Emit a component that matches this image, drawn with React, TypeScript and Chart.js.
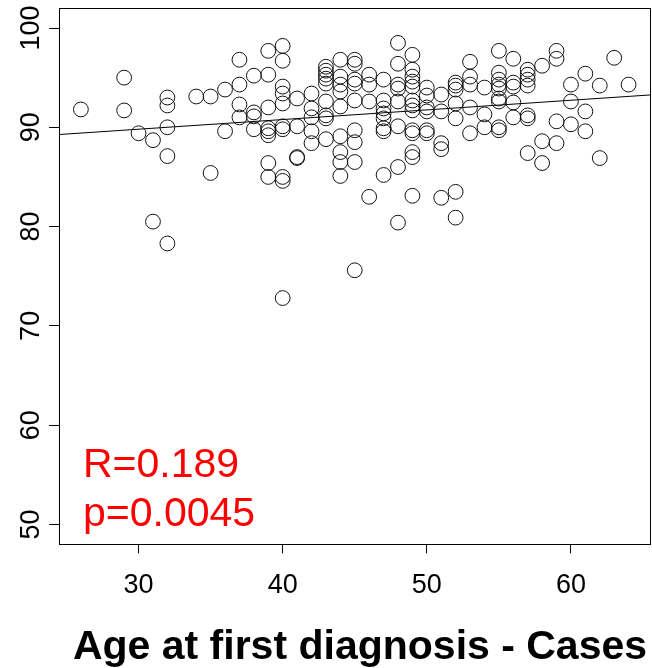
import React, { useEffect, useRef } from 'react';
import { Chart, registerables } from 'chart.js';

Chart.register(...registerables);

// Age at first diagnosis (x) and score (y), grouped by age
const ages: number[] = [
  26,
  29, 29,
  30,
  31, 31,
  32, 32, 32, 32, 32,
  34,
  35, 35,
  36, 36,
  37, 37, 37, 37,
  38, 38, 38, 38,
  39, 39, 39, 39, 39, 39, 39, 39,
  40, 40, 40, 40, 40, 40, 40, 40, 40, 40,
  41, 41, 41, 41,
  42, 42, 42, 42, 42,
  43, 43, 43, 43, 43, 43, 43, 43, 43,
  44, 44, 44, 44, 44, 44, 44, 44, 44,
  45, 45, 45, 45, 45, 45, 45, 45, 45,
  46, 46, 46, 46,
  47, 47, 47, 47, 47, 47, 47, 47,
  48, 48, 48, 48, 48, 48, 48, 48,
  49, 49, 49, 49, 49, 49, 49, 49, 49, 49, 49, 49, 49,
  50, 50, 50, 50, 50, 50,
  51, 51, 51, 51, 51,
  52, 52, 52, 52, 52, 52, 52,
  53, 53, 53, 53, 53,
  54, 54, 54,
  55, 55, 55, 55, 55, 55, 55, 55, 55,
  56, 56, 56, 56, 56,
  57, 57, 57, 57, 57, 57, 57,
  58, 58, 58,
  59, 59, 59, 59,
  60, 60, 60,
  61, 61, 61,
  62, 62,
  63,
  64,
];

const scores: number[] = [
  91.8,
  95.0, 91.7,
  89.4,
  88.7, 80.5,
  93.0, 92.2, 90.0, 87.1, 78.3,
  93.1,
  93.1, 85.4,
  93.8, 89.6,
  96.8, 94.3, 92.3, 91.0,
  95.2, 91.5, 91.1, 89.8,
  97.7, 95.3, 92.0, 89.9, 89.6, 89.2, 86.4, 85.0,
  98.2, 96.7, 94.1, 93.4, 92.4, 90.1, 89.8, 85.0, 84.6, 72.8,
  92.9, 90.1, 87.0, 86.9,
  93.4, 91.9, 91.0, 89.6, 88.4,
  96.1, 95.7, 95.3, 94.9, 94.4, 92.6, 91.2, 90.9, 88.8,
  96.8, 95.1, 94.3, 93.6, 92.1, 89.1, 87.5, 86.5, 85.1,
  96.8, 96.4, 94.8, 94.4, 92.7, 89.7, 88.5, 86.5, 75.6,
  95.3, 94.3, 92.6, 83.0,
  94.8, 92.7, 91.9, 91.4, 90.9, 89.9, 89.6, 85.2,
  98.5, 96.4, 94.3, 93.9, 92.6, 90.1, 86.0, 80.4,
  97.3, 95.8, 95.1, 94.6, 94.1, 92.7, 92.2, 91.7, 89.7, 89.4, 87.5, 87.0, 83.1,
  94.0, 93.2, 92.0, 91.6, 89.7, 89.4,
  93.3, 91.6, 88.4, 87.8, 82.9,
  94.5, 94.2, 93.8, 92.4, 90.9, 83.5, 80.9,
  96.6, 95.1, 94.3, 92.0, 89.4,
  94.0, 91.3, 90.0,
  97.7, 95.5, 94.8, 94.3, 93.9, 92.9, 92.6, 90.0, 89.7,
  96.9, 94.5, 94.1, 92.5, 91.0,
  95.8, 95.3, 94.8, 94.2, 91.2, 90.9, 87.4,
  96.2, 88.6, 86.4,
  97.7, 96.9, 90.6, 88.4,
  94.3, 92.6, 90.3,
  95.4, 91.6, 89.6,
  94.2, 86.9,
  97.0,
  94.3,
];

// Regression line as read at the two edges of the plot
const fitAges: number[] = [24.48, 65.52];
const fitScores: number[] = [89.27, 93.26];

const xTicks: number[] = [30, 40, 50, 60];
const yTicks: number[] = [50, 60, 70, 80, 90, 100];
const xRange: number[] = [24.48, 65.52];
const yRange: number[] = [48, 102];

const statLabels: string[] = ['R=0.189', 'p=0.0045'];
const xTitle = 'Age at first diagnosis - Cases';

const FONT = '"Liberation Sans", Arial, Helvetica, sans-serif';

export default function App() {
  const canvasRef = useRef<HTMLCanvasElement | null>(null);

  useEffect(() => {
    document.body.style.margin = '0';
    const canvas = canvasRef.current;
    if (!canvas) return;

    const boxPlugin = {
      id: 'rbox',
      afterDraw(chart: any) {
        const { ctx, chartArea } = chart;
        ctx.save();
        ctx.strokeStyle = '#000';
        ctx.lineWidth = 1;
        const l = Math.round(chartArea.left) + 0.5;
        const t = Math.round(chartArea.top) + 0.5;
        const r = Math.round(chartArea.right) - 0.5;
        const b = Math.round(chartArea.bottom) + 0.5;
        ctx.strokeRect(l, t, r - l, b - t);
        // stats text
        ctx.fillStyle = '#ff0000';
        ctx.font = `41px ${FONT}`;
        ctx.textAlign = 'left';
        ctx.textBaseline = 'alphabetic';
        ctx.fillText(statLabels[0], 83, 477);
        ctx.fillText(statLabels[1], 83, 526);
        // x axis title
        ctx.fillStyle = '#000';
        ctx.font = `bold 41px ${FONT}`;
        ctx.textAlign = 'center';
        ctx.fillText(xTitle, 360, 659);
        ctx.restore();
      },
    };

    const chart = new Chart(canvas, {
      type: 'scatter',
      data: {
        datasets: [
          {
            type: 'scatter',
            data: ages.map((a, i) => ({ x: a, y: scores[i] })),
            pointStyle: 'circle',
            pointRadius: 7.4,
            pointHoverRadius: 7.4,
            borderWidth: 1,
            borderColor: '#111',
            backgroundColor: 'rgba(0,0,0,0)',
          },
          {
            type: 'line',
            data: fitAges.map((a, i) => ({ x: a, y: fitScores[i] })),
            borderColor: '#000',
            borderWidth: 1,
            pointRadius: 0,
            fill: false,
          } as any,
        ],
      },
      options: {
        responsive: false,
        animation: false,
        devicePixelRatio: 1,
        events: [],
        layout: { autoPadding: false, padding: { top: 8.15, right: 1.5, left: 0, bottom: 0 } },
        plugins: { legend: { display: false }, tooltip: { enabled: false } },
        scales: {
          x: {
            type: 'linear',
            min: xRange[0],
            max: xRange[1],
            afterBuildTicks: (s: any) => {
              s.ticks = xTicks.map((v) => ({ value: v }));
            },
            afterFit: (s: any) => {
              s.height = 668 - 544.3;
              s.paddingLeft = 0;
              s.paddingRight = 0;
              s.paddingTop = 0;
              s.paddingBottom = 0;
            },
            border: { display: false },
            grid: { display: true, drawOnChartArea: false, drawTicks: true, tickLength: 9, color: '#000', lineWidth: 1 },
            ticks: {
              color: '#000',
              font: { family: FONT, size: 27, lineHeight: 1 },
              padding: 19,
              maxRotation: 0,
              minRotation: 0,
              autoSkip: false,
              callback: (v: any) => String(v),
            },
          },
          y: {
            type: 'linear',
            min: yRange[0],
            max: yRange[1],
            afterBuildTicks: (s: any) => {
              s.ticks = yTicks.map((v) => ({ value: v }));
            },
            afterFit: (s: any) => {
              s.width = 59;
              s.paddingLeft = 0;
              s.paddingRight = 0;
              s.paddingTop = 0;
              s.paddingBottom = 0;
            },
            border: { display: false },
            grid: { display: true, drawOnChartArea: false, drawTicks: true, tickLength: 10, color: '#000', lineWidth: 1 },
            ticks: {
              color: '#000',
              font: { family: FONT, size: 27, lineHeight: 1 },
              padding: -5.5,
              minRotation: 90,
              maxRotation: 90,
              crossAlign: 'center',
              autoSkip: false,
              callback: (v: any) => String(v),
            },
          },
        },
      },
      plugins: [boxPlugin],
    } as any);

    return () => chart.destroy();
  }, []);

  return (
    <div style={{ width: 652, height: 668, background: '#fff' }}>
      <canvas ref={canvasRef} width={652} height={668} style={{ display: 'block' }} />
    </div>
  );
}
